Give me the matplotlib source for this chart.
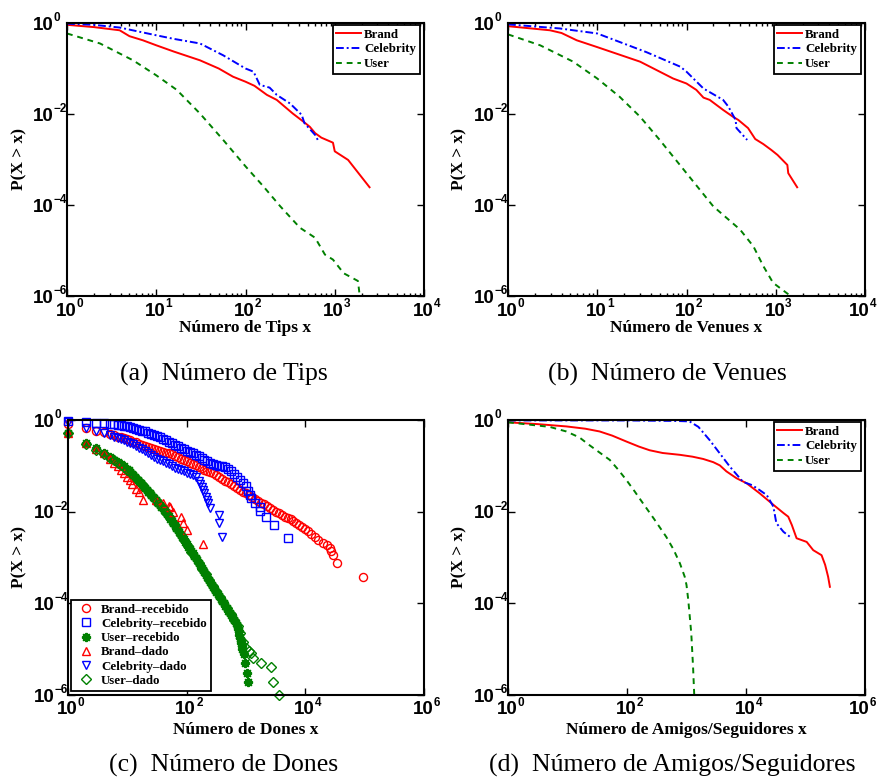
import numpy as np
import matplotlib
matplotlib.use("Agg")
import matplotlib.pyplot as plt
import matplotlib.transforms as mtrans
from matplotlib.ticker import FixedLocator, NullFormatter

# ---------------- data (log10 values) ----------------
# (a) Número de Tips
tips_brand_lx = [0, 0.30, 0.59, 0.70, 0.85, 1.00, 1.20, 1.49, 1.70, 1.86, 2.00, 2.10, 2.24, 2.35, 2.53, 2.65, 2.72, 2.78, 2.85, 2.98, 3.00, 3.15, 3.39]
tips_brand_ly = [-0.04, -0.09, -0.16, -0.29, -0.38, -0.49, -0.63, -0.82, -1.00, -1.18, -1.29, -1.38, -1.58, -1.69, -1.99, -2.17, -2.28, -2.42, -2.52, -2.63, -2.82, -3.01, -3.61]
tips_celeb_lx = [0, 0.30, 0.59, 1.00, 1.20, 1.49, 1.75, 2.00, 2.09, 2.16, 2.27, 2.35, 2.50, 2.63, 2.66, 2.78, 2.81]
tips_celeb_ly = [-0.015, -0.04, -0.10, -0.27, -0.35, -0.45, -0.71, -1.00, -1.07, -1.36, -1.42, -1.58, -1.77, -2.02, -2.20, -2.46, -2.57]
tips_user_lx = [0, 0.37, 0.74, 1.00, 1.23, 1.49, 1.75, 2.00, 2.20, 2.39, 2.61, 2.78, 2.89, 2.98, 3.10, 3.26, 3.28, 3.47]
tips_user_ly = [-0.23, -0.45, -0.82, -1.15, -1.47, -1.99, -2.57, -3.15, -3.59, -4.03, -4.50, -4.72, -5.09, -5.20, -5.50, -5.67, -6.00, -6.00]

# (b) Número de Venues
ven_brand_lx = [0, 0.47, 0.60, 0.77, 1.00, 1.48, 1.85, 2.00, 2.11, 2.19, 2.26, 2.41, 2.52, 2.58, 2.69, 2.74, 2.77, 2.86, 2.95, 3.02, 3.13, 3.14, 3.24]
ven_brand_ly = [-0.07, -0.16, -0.22, -0.38, -0.53, -0.85, -1.22, -1.33, -1.47, -1.64, -1.69, -1.91, -2.06, -2.13, -2.31, -2.46, -2.55, -2.66, -2.79, -2.90, -3.12, -3.30, -3.61]
ven_celeb_lx = [0, 0.58, 1.00, 1.55, 1.93, 2.00, 2.19, 2.41, 2.47, 2.55, 2.56, 2.68]
ven_celeb_ly = [-0.03, -0.12, -0.23, -0.64, -0.96, -1.07, -1.44, -1.69, -1.84, -2.13, -2.31, -2.57]
ven_user_lx = [0, 0.36, 0.73, 1.00, 1.25, 1.48, 1.70, 2.00, 2.30, 2.60, 2.75, 2.86, 2.97, 3.16]
ven_user_ly = [-0.25, -0.49, -0.85, -1.22, -1.62, -2.06, -2.57, -3.30, -4.03, -4.54, -4.91, -5.34, -5.71, -5.99]

# (c) Número de Dones
don_brand_rec_lx = [0, 0.30, 0.48, 0.60, 0.70, 0.78, 0.85, 0.90, 0.95, 1.00, 1.05, 1.10, 1.15, 1.20, 1.25, 1.30, 1.35, 1.40, 1.45, 1.50, 1.55, 1.60, 1.65, 1.70, 1.75, 1.80, 1.85, 1.90, 1.95, 2.00, 2.05, 2.10, 2.15, 2.20, 2.25, 2.30, 2.35, 2.40, 2.45, 2.50, 2.55, 2.60, 2.65, 2.70, 2.75, 2.80, 2.85, 2.90, 2.95, 3.00, 3.05, 3.10, 3.15, 3.20, 3.25, 3.30, 3.35, 3.40, 3.45, 3.50, 3.55, 3.60, 3.65, 3.70, 3.75, 3.80, 3.85, 3.90, 3.95, 4.00, 4.05, 4.10, 4.16, 4.22, 4.30, 4.36, 4.42, 4.44, 4.47, 4.53, 4.97]
don_brand_rec_ly = [-0.08, -0.17, -0.23, -0.27, -0.31, -0.33, -0.36, -0.38, -0.40, -0.42, -0.44, -0.47, -0.49, -0.52, -0.54, -0.56, -0.58, -0.60, -0.63, -0.65, -0.67, -0.69, -0.71, -0.73, -0.75, -0.78, -0.81, -0.84, -0.87, -0.90, -0.93, -0.96, -0.99, -1.02, -1.05, -1.08, -1.11, -1.13, -1.16, -1.20, -1.24, -1.28, -1.32, -1.36, -1.40, -1.44, -1.48, -1.52, -1.56, -1.60, -1.64, -1.68, -1.72, -1.76, -1.80, -1.84, -1.88, -1.92, -1.96, -2.00, -2.03, -2.07, -2.11, -2.14, -2.17, -2.20, -2.24, -2.28, -2.33, -2.38, -2.43, -2.49, -2.56, -2.62, -2.68, -2.73, -2.80, -2.86, -2.95, -3.13, -3.43]
don_celeb_rec_lx = [0, 0.30, 0.48, 0.60, 0.70, 0.78, 0.85, 0.90, 0.95, 1.00, 1.05, 1.10, 1.15, 1.20, 1.25, 1.30, 1.35, 1.40, 1.45, 1.50, 1.55, 1.60, 1.65, 1.70, 1.75, 1.80, 1.85, 1.90, 1.95, 2.00, 2.05, 2.10, 2.15, 2.20, 2.25, 2.30, 2.35, 2.40, 2.45, 2.50, 2.55, 2.60, 2.65, 2.70, 2.75, 2.80, 2.85, 2.90, 2.95, 3.00, 3.04, 3.06, 3.09, 3.15, 3.23, 3.23, 3.33, 3.48, 3.71]
don_celeb_rec_ly = [-0.02, -0.04, -0.06, -0.07, -0.08, -0.09, -0.10, -0.11, -0.12, -0.13, -0.15, -0.17, -0.19, -0.21, -0.23, -0.25, -0.28, -0.30, -0.33, -0.35, -0.38, -0.41, -0.44, -0.47, -0.50, -0.54, -0.57, -0.60, -0.64, -0.67, -0.70, -0.73, -0.76, -0.79, -0.83, -0.87, -0.90, -0.93, -0.96, -0.98, -1.00, -1.01, -1.03, -1.07, -1.12, -1.18, -1.24, -1.30, -1.37, -1.45, -1.55, -1.64, -1.71, -1.80, -1.89, -1.99, -2.11, -2.29, -2.58]
don_user_rec_lx = [0, 0.30, 0.48, 0.60, 0.70, 0.78, 0.85, 0.90, 0.95,
                   1.000, 1.025, 1.050, 1.075, 1.100, 1.125, 1.150, 1.175, 1.200, 1.225, 1.250, 1.275, 1.300, 1.325, 1.350, 1.375,
                   1.400, 1.425, 1.450, 1.475, 1.500, 1.525, 1.550, 1.575, 1.600, 1.625, 1.650, 1.675, 1.700, 1.725, 1.750, 1.775,
                   1.800, 1.825, 1.850, 1.875, 1.900, 1.925, 1.950, 1.975, 2.000, 2.025, 2.050, 2.075, 2.100, 2.125, 2.150, 2.175,
                   2.200, 2.225, 2.250, 2.275, 2.300, 2.325, 2.350, 2.375, 2.400, 2.425, 2.450, 2.475, 2.500, 2.525, 2.550, 2.575,
                   2.600, 2.625, 2.650, 2.675, 2.700, 2.725, 2.750, 2.775, 2.800, 2.825, 2.850,
                   2.87, 2.88, 2.89, 2.90, 2.91, 2.92, 2.93, 2.94, 2.96, 2.98, 3.01, 3.04]
don_user_rec_ly = [-0.29, -0.51, -0.62, -0.72, -0.80, -0.87, -0.92, -0.97, -1.01,
                   -1.07, -1.10, -1.14, -1.17, -1.21, -1.24, -1.28, -1.31, -1.35, -1.38, -1.42, -1.46, -1.49, -1.53, -1.56, -1.60,
                   -1.63, -1.67, -1.71, -1.74, -1.78, -1.82, -1.85, -1.89, -1.93, -1.96, -2.00, -2.05, -2.10, -2.15, -2.20, -2.25,
                   -2.30, -2.35, -2.40, -2.45, -2.50, -2.55, -2.60, -2.66, -2.71, -2.76, -2.81, -2.86, -2.91, -2.96, -3.01, -3.06,
                   -3.11, -3.17, -3.22, -3.27, -3.32, -3.38, -3.43, -3.49, -3.54, -3.59, -3.65, -3.70, -3.75, -3.80, -3.85, -3.90,
                   -3.95, -4.00, -4.06, -4.11, -4.16, -4.21, -4.26, -4.32, -4.37, -4.42, -4.47,
                   -4.55, -4.60, -4.68, -4.75, -4.82, -4.87, -4.93, -5.00, -5.10, -5.31, -5.53, -5.71]
don_brand_dado_lx = [0, 0.30, 0.48, 0.60, 0.70, 0.78, 0.85, 0.90, 0.95, 1.00, 1.04, 1.08, 1.15, 1.20, 1.27, 1.49, 1.60, 1.70, 1.72, 1.77, 1.91, 1.94, 2.00, 2.27]
don_brand_dado_ly = [-0.29, -0.51, -0.64, -0.73, -0.86, -0.94, -1.01, -1.08, -1.16, -1.24, -1.31, -1.40, -1.50, -1.58, -1.75, -1.75, -1.82, -1.87, -1.89, -2.00, -2.11, -2.25, -2.40, -2.71]
don_celeb_dado_lx = [0, 0.30, 0.48, 0.60, 0.70, 0.78, 0.85, 0.90, 0.95, 1.00, 1.05, 1.10, 1.15, 1.20, 1.25, 1.30, 1.35, 1.40, 1.45, 1.50, 1.55, 1.60, 1.65, 1.70, 1.75, 1.80, 1.85, 1.90, 1.95, 2.00, 2.05, 2.10, 2.15, 2.20, 2.23, 2.26, 2.28, 2.30, 2.33, 2.35, 2.36, 2.39, 2.55, 2.55, 2.60]
don_celeb_dado_ly = [-0.04, -0.18, -0.24, -0.29, -0.33, -0.36, -0.39, -0.42, -0.44, -0.47, -0.50, -0.53, -0.57, -0.61, -0.64, -0.68, -0.72, -0.76, -0.80, -0.84, -0.87, -0.90, -0.93, -0.97, -1.01, -1.04, -1.07, -1.10, -1.12, -1.15, -1.18, -1.21, -1.25, -1.33, -1.40, -1.47, -1.53, -1.59, -1.67, -1.75, -1.82, -1.93, -2.07, -2.25, -2.55]
don_user_dado_lx = [0, 0.30, 0.48, 0.60, 0.70, 0.78, 0.85, 0.90, 0.95, 1.00, 1.06, 1.12, 1.18, 1.24, 1.30, 1.36, 1.42, 1.48, 1.54, 1.60, 1.66, 1.72, 1.78, 1.84, 1.90, 1.96, 2.02, 2.08, 2.14, 2.20, 2.26, 2.32, 2.38, 2.44, 2.50, 2.56, 2.62, 2.68, 2.74, 2.80, 2.86, 2.90, 2.95, 3.00, 3.05, 3.09, 3.12, 3.26, 3.42, 3.45, 3.56]
don_user_dado_ly = [-0.29, -0.53, -0.66, -0.75, -0.82, -0.88, -0.93, -0.98, -1.03, -1.08, -1.15, -1.23, -1.31, -1.40, -1.48, -1.57, -1.66, -1.75, -1.84, -1.93, -2.03, -2.14, -2.26, -2.38, -2.50, -2.62, -2.75, -2.87, -2.99, -3.12, -3.24, -3.37, -3.49, -3.62, -3.74, -3.86, -3.98, -4.11, -4.23, -4.36, -4.50, -4.65, -4.85, -4.98, -5.05, -5.09, -5.20, -5.31, -5.38, -5.71, -6.00]

# (d) Número de Amigos/Seguidores
ami_brand_lx = [0, 0.50, 0.98, 1.30, 1.54, 1.75, 1.99, 2.20, 2.38, 2.60, 2.89, 3.10, 3.28, 3.45, 3.56, 3.67, 3.84, 4.01, 4.23, 4.46, 4.63, 4.71, 4.77, 4.85, 5.02, 5.13, 5.27, 5.33, 5.38, 5.41]
ami_brand_ly = [-0.05, -0.09, -0.14, -0.19, -0.25, -0.34, -0.47, -0.58, -0.66, -0.72, -0.76, -0.80, -0.85, -0.92, -0.99, -1.12, -1.27, -1.38, -1.60, -1.85, -2.03, -2.11, -2.29, -2.58, -2.66, -2.84, -2.95, -3.16, -3.42, -3.64]
ami_celeb_lx = [0, 1.00, 2.00, 2.80, 3.05, 3.20, 3.39, 3.56, 3.73, 3.95, 4.10, 4.23, 4.35, 4.46, 4.51, 4.63, 4.77]
ami_celeb_ly = [-0.01, -0.01, -0.01, -0.02, -0.03, -0.15, -0.44, -0.73, -1.02, -1.35, -1.42, -1.53, -1.64, -1.89, -2.25, -2.44, -2.58]
ami_user_lx = [0, 0.70, 0.98, 1.20, 1.37, 1.55, 1.71, 1.85, 1.99, 2.13, 2.27, 2.45, 2.66, 2.78, 2.89, 2.97, 3.00, 3.03, 3.08, 3.11, 3.13]
ami_user_ly = [-0.05, -0.15, -0.25, -0.38, -0.55, -0.72, -0.87, -1.08, -1.31, -1.56, -1.82, -2.15, -2.55, -2.82, -3.13, -3.42, -3.60, -3.93, -4.65, -5.38, -6.00]

line_labels = ["Brand", "Celebrity", "User"]
dot_labels = ["Brand\u2013recebido", "Celebrity\u2013recebido", "User\u2013recebido",
              "Brand\u2013dado", "Celebrity\u2013dado", "User\u2013dado"]
x_labels = ["Número de Tips x", "Número de Venues x", "Número de Dones x", "Número de Amigos/Seguidores x"]
y_label = "P(X > x)"
captions = ["(a)  Número de Tips", "(b)  Número de Venues", "(c)  Número de Dones", "(d)  Número de Amigos/Seguidores"]
y_tick_exps = [0, -2, -4, -6]

RED, BLUE, GREEN = "#ff0000", "#0000ff", "#008000"
SERIF = "Liberation Serif"
SANS = "Liberation Sans"

def p(v):
    return np.power(10.0, np.asarray(v, dtype=float))

fig = plt.figure(figsize=(8.77, 7.84), dpi=100)
W, H = 877.0, 784.0
def add_ax(l, t, r, b):
    ax = fig.add_axes([l / W, 1 - b / H, (r - l) / W, (b - t) / H])
    ax._px = (l, t, r, b)
    return ax

axA = add_ax(67, 23, 424, 296)
axB = add_ax(508, 23, 865, 296)
axC = add_ax(68, 420, 424, 695)
axD = add_ax(508, 420, 865, 695)

def exp_str(e):
    return str(e).replace("-", "\u2212")

def style(ax, x_exps, minor_x, xlabel, xlab_off, ylab_x, last_shift=0.0):
    l, t, r, b = ax._px
    xmax_exp = x_exps[-1]
    ax.set_xscale("log")
    ax.set_yscale("log")
    ax.set_xlim(1, 10.0 ** xmax_exp)
    ax.set_ylim(1e-6, 1)
    ax.xaxis.set_major_locator(FixedLocator([10.0 ** e for e in x_exps]))
    ax.xaxis.set_major_formatter(NullFormatter())
    if minor_x:
        mt = [k * 10.0 ** e for e in range(0, xmax_exp) for k in range(2, 10)]
        ax.xaxis.set_minor_locator(FixedLocator(mt))
    else:
        ax.xaxis.set_minor_locator(FixedLocator([]))
    ax.xaxis.set_minor_formatter(NullFormatter())
    ax.yaxis.set_major_locator(FixedLocator([10.0 ** e for e in y_tick_exps]))
    ax.yaxis.set_major_formatter(NullFormatter())
    ax.yaxis.set_minor_locator(FixedLocator([]))
    ax.tick_params(which="both", direction="in", top=True, right=True, width=1.0, color="black",
                   labelbottom=False, labelleft=False)
    ax.tick_params(which="major", length=5)
    ax.tick_params(which="minor", length=2.5)
    for s in ax.spines.values():
        s.set_linewidth(1.5)
    # tick labels in the MATLAB style: "10" plus a small raised exponent
    bx = mtrans.blended_transform_factory(ax.transData, ax.transAxes)
    by = mtrans.blended_transform_factory(ax.transAxes, ax.transData)
    for i, e in enumerate(x_exps):
        dx = last_shift if i == len(x_exps) - 1 else 0.0
        t1 = mtrans.offset_copy(bx, fig=fig, x=-1 + dx, y=-19.5, units="dots")
        ax.text(10.0 ** e, 0, "10", transform=t1, ha="center", va="baseline",
                fontsize=13.5, fontfamily=SANS, fontweight="bold", clip_on=False)
        t2 = mtrans.offset_copy(bx, fig=fig, x=9.5 + dx, y=-11, units="dots")
        ax.text(10.0 ** e, 0, exp_str(e), transform=t2, ha="left", va="baseline",
                fontsize=8.5, fontfamily=SANS, fontweight="bold", clip_on=False)
    for e in y_tick_exps:
        t1 = mtrans.offset_copy(by, fig=fig, x=-13.5, y=-6.7, units="dots")
        ax.text(0, 10.0 ** e, "10", transform=t1, ha="right", va="baseline",
                fontsize=13.5, fontfamily=SANS, fontweight="bold", clip_on=False)
        t2 = mtrans.offset_copy(by, fig=fig, x=-13.2, y=2, units="dots")
        ax.text(0, 10.0 ** e, exp_str(e), transform=t2, ha="left", va="baseline",
                fontsize=8.5, fontfamily=SANS, fontweight="bold", clip_on=False)
    ax.set_ylabel(y_label, fontfamily=SERIF, fontweight="bold", fontsize=12.5)
    ax.yaxis.set_label_coords((ylab_x - l) / (r - l), 0.5)
    ax.yaxis.label.set_verticalalignment("center")
    ax.yaxis.label.set_horizontalalignment("center")
    ax.set_xlabel(xlabel, fontfamily=SERIF, fontweight="bold", fontsize=12.5)
    ax.xaxis.set_label_coords(0.5, -xlab_off / (b - t))
    ax.xaxis.label.set_verticalalignment("center")

def line_legend(ax):
    leg = ax.legend(loc="upper right", bbox_to_anchor=(0.989, 0.993), borderaxespad=0,
                    prop={"family": SERIF, "weight": "bold", "size": 9.3},
                    frameon=True, fancybox=False, framealpha=1, edgecolor="black",
                    handlelength=1.9, handletextpad=0.25, labelspacing=0.2, borderpad=0.3)
    leg.get_frame().set_linewidth(1.3)

def draw_lines(ax, b, c, u):
    ax.plot(p(b[0]), p(b[1]), color=RED, lw=1.4, ls="-", label=line_labels[0])
    ax.plot(p(c[0]), p(c[1]), color=BLUE, lw=1.4, ls=(0, (4, 1.5, 1, 1.5)), label=line_labels[1])
    ax.plot(p(u[0]), p(u[1]), color=GREEN, lw=1.4, ls=(0, (3, 2.5)), label=line_labels[2])

# (a)
style(axA, [0, 1, 2, 3, 4], True, x_labels[0], 31.5, 19.5)
draw_lines(axA, (tips_brand_lx, tips_brand_ly), (tips_celeb_lx, tips_celeb_ly), (tips_user_lx, tips_user_ly))
line_legend(axA)

# (b)
style(axB, [0, 1, 2, 3, 4], True, x_labels[1], 31.5, 459.5, last_shift=-5)
draw_lines(axB, (ven_brand_lx, ven_brand_ly), (ven_celeb_lx, ven_celeb_ly), (ven_user_lx, ven_user_ly))
line_legend(axB)

# (c)
style(axC, [0, 2, 4, 6], False, x_labels[2], 34.5, 19.5)
ms = 5.8
mk = dict(ls="none", mfc="none", ms=ms, mew=1.0, clip_on=False)
axC.plot(p(don_brand_rec_lx), p(don_brand_rec_ly), marker="o", mec=RED, label=dot_labels[0], **mk)
axC.plot(p(don_celeb_rec_lx), p(don_celeb_rec_ly), marker="s", mec=BLUE, label=dot_labels[1], **mk)
axC.plot(p(don_user_rec_lx), p(don_user_rec_ly), marker=(8, 2, 0), mec=GREEN, color=GREEN, label=dot_labels[2],
         ls="none", mfc="none", ms=6.6, mew=1.4, clip_on=False)
axC.plot(p(don_brand_dado_lx), p(don_brand_dado_ly), marker="^", mec=RED, label=dot_labels[3], **mk)
axC.plot(p(don_celeb_dado_lx), p(don_celeb_dado_ly), marker="v", mec=BLUE, label=dot_labels[4], **mk)
axC.plot(p(don_user_dado_lx), p(don_user_dado_ly), marker="D", mec=GREEN, label=dot_labels[5], ls="none", mfc="none", ms=ms * 0.85, mew=1.0, clip_on=False)
legC = axC.legend(loc="lower left", bbox_to_anchor=(0.0096, 0.0156), borderaxespad=0,
                  prop={"family": SERIF, "weight": "bold", "size": 9.3}, numpoints=1,
                  frameon=True, fancybox=False, framealpha=1, edgecolor="black",
                  handlelength=1.6, handletextpad=0.4, labelspacing=0.17, borderpad=0.3)
legC.get_frame().set_linewidth(1.3)

# (d)
style(axD, [0, 2, 4, 6], False, x_labels[3], 34.5, 459.5, last_shift=-5)
draw_lines(axD, (ami_brand_lx, ami_brand_ly), (ami_celeb_lx, ami_celeb_ly), (ami_user_lx, ami_user_ly))
line_legend(axD)

# captions
for (cx, cy), txt in zip([(224, 374), (667, 374), (224, 765), (672, 765)], captions):
    fig.text(cx / W, 1 - cy / H, txt, ha="center", va="center", fontfamily=SERIF, fontsize=18.5)

fig.savefig("out.png", dpi=100)
